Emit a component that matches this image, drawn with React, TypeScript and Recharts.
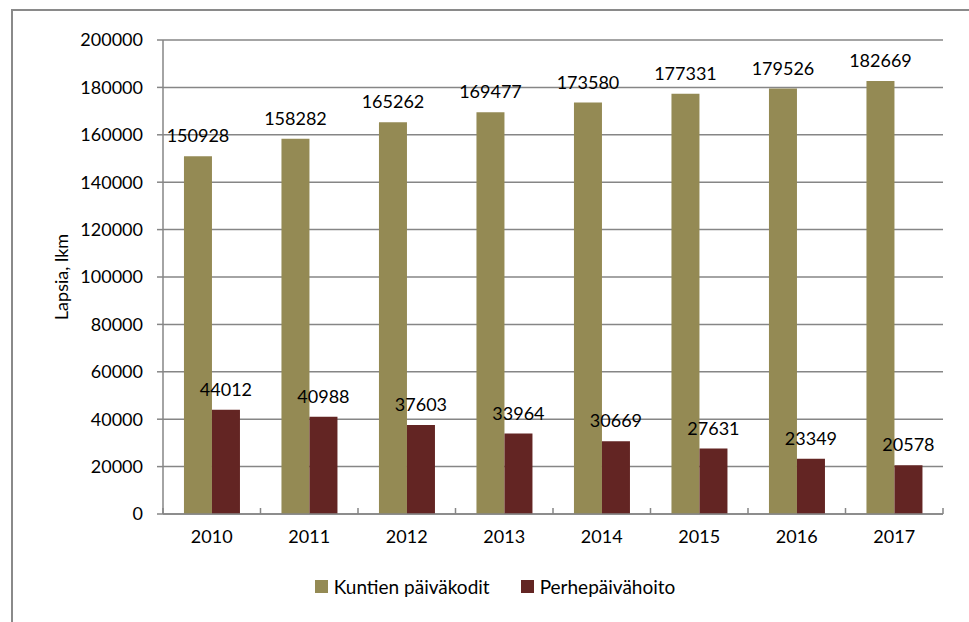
import React from "react";
import {
  Bar,
  BarChart,
  CartesianGrid,
  LabelList,
  Legend,
  XAxis,
  YAxis,
} from "recharts";

const years = ["2010", "2011", "2012", "2013", "2014", "2015", "2016", "2017"];
const kuntienPaivakodit = [
  150928, 158282, 165262, 169477, 173580, 177331, 179526, 182669,
];
const perhepaivahoito = [
  44012, 40988, 37603, 33964, 30669, 27631, 23349, 20578,
];
const yTicks = [
  0, 20000, 40000, 60000, 80000, 100000, 120000, 140000, 160000, 180000,
  200000,
];

const OLIVE = "#948A54";
const MAROON = "#632523";
const GRID = "#868686";
const FONT = "Lato, 'Open Sans', sans-serif";

const rows = years.map((year, i) => ({
  year,
  kunta: kuntienPaivakodit[i],
  perhe: perhepaivahoito[i],
}));

const W = 969;
const H = 622;
const PLOT_LEFT = 163;
const PLOT_RIGHT = 943;
const BAND = (PLOT_RIGHT - PLOT_LEFT) / years.length;

// Excel draws x tick marks between categories, not under them
const XTick = (props: any) => {
  const { x, y, payload, index } = props;
  const top = y - 14;
  return (
    <g>
      <line x1={x - BAND / 2} y1={top} x2={x - BAND / 2} y2={top + 6} stroke={GRID} strokeWidth={1.5} />
      {index === years.length - 1 && (
        <line x1={x + BAND / 2} y1={top} x2={x + BAND / 2} y2={top + 6} stroke={GRID} strokeWidth={1.5} />
      )}
      <text x={x} y={top + 28} textAnchor="middle" dominantBaseline="central" fontSize={18} fill="#000" fontFamily={FONT}>
        {payload.value}
      </text>
    </g>
  );
};

const YLabel = (props: any) => {
  const { viewBox } = props;
  const cx = 61;
  const cy = viewBox.y + viewBox.height / 2;
  return (
    <text
      x={cx}
      y={cy}
      transform={`rotate(-90 ${cx} ${cy})`}
      textAnchor="middle"
      dominantBaseline="central"
      fontSize={18}
      fill="#000"
      fontFamily={FONT}
    >
      Lapsia, lkm
    </text>
  );
};

const legendItems = [
  { label: "Kuntien päiväkodit", color: OLIVE },
  { label: "Perhepäivähoito", color: MAROON },
];

const LegendContent = () => (
  <div
    style={{
      display: "flex",
      justifyContent: "center",
      alignItems: "center",
      gap: 31,
      fontFamily: FONT,
      fontSize: 19,
      color: "#000",
      marginLeft: 14,
    }}
  >
    {legendItems.map((item) => (
      <div key={item.label} style={{ display: "flex", alignItems: "center", gap: 6 }}>
        <span style={{ width: 13, height: 13, background: item.color, display: "inline-block" }} />
        <span>{item.label}</span>
      </div>
    ))}
  </div>
);

export default function App() {
  return (
    <div style={{ position: "fixed", left: 0, top: 0, width: W, height: H, background: "#fff", overflow: "hidden" }}>
      <div
        style={{
          position: "absolute",
          left: 11,
          top: 9,
          width: W,
          height: H,
          border: "2px solid #8a8a8a",
          boxSizing: "border-box",
        }}
      />
      <div style={{ position: "absolute", left: 0, top: 0 }}>
        <BarChart
          width={W}
          height={H}
          data={rows}
          margin={{ top: 40, right: W - PLOT_RIGHT, left: 33, bottom: 17 }}
          barCategoryGap="21.5%"
          barGap={0}
        >
          <CartesianGrid vertical={false} stroke={GRID} strokeWidth={1.5} />
          <XAxis
            dataKey="year"
            height={61}
            axisLine={{ stroke: GRID, strokeWidth: 1.5 }}
            tickLine={false}
            tick={<XTick />}
            interval={0}
          />
          <YAxis
            width={130}
            domain={[0, 200000]}
            ticks={yTicks}
            interval={0}
            axisLine={{ stroke: GRID, strokeWidth: 1.5 }}
            tickLine={{ stroke: GRID, strokeWidth: 1.5 }}
            tickSize={6}
            tickMargin={14}
            tick={{ fontSize: 18, fill: "#000", fontFamily: FONT }}
            label={<YLabel />}
          />
          <Legend verticalAlign="bottom" height={30} content={<LegendContent />} />
          <Bar dataKey="kunta" fill={OLIVE} isAnimationActive={false}>
            <LabelList dataKey="kunta" position="top" offset={14} fontSize={18} fill="#000" fontFamily={FONT} />
          </Bar>
          <Bar dataKey="perhe" fill={MAROON} isAnimationActive={false}>
            <LabelList dataKey="perhe" position="top" offset={14} fontSize={18} fill="#000" fontFamily={FONT} />
          </Bar>
        </BarChart>
      </div>
    </div>
  );
}
